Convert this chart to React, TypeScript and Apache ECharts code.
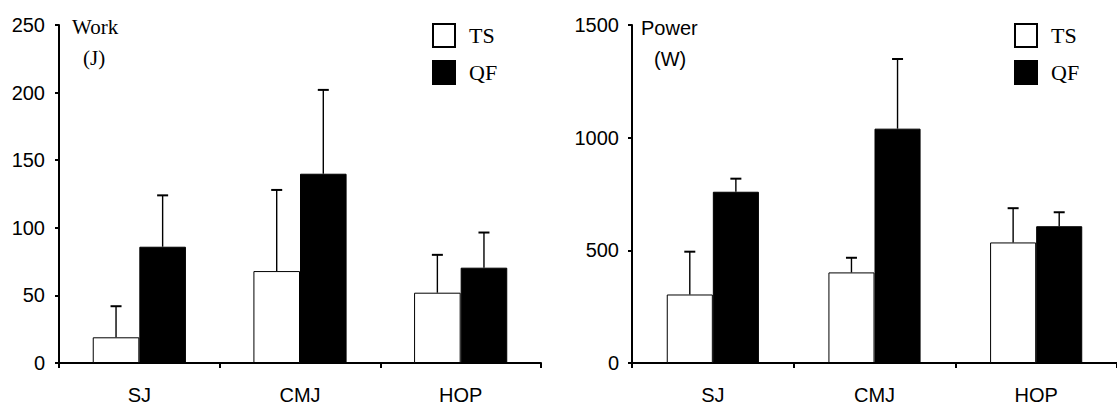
import React, { useEffect, useRef } from "react";
import * as echarts from "echarts";

const categories = ["SJ", "CMJ", "HOP"];
const seriesNames = ["TS", "QF"];

// Work (J)
const workTS = [19, 68, 52];
const workTSErr = [23, 60, 28];
const workQF = [86, 140, 70.5];
const workQFErr = [38, 62, 26];

// Power (W)
const powerTS = [304, 402, 535];
const powerTSErr = [190, 65, 152];
const powerQF = [760, 1040, 607];
const powerQFErr = [58, 309, 62];

const workTicks = { min: 0, max: 250, interval: 50 };
const powerTicks = { min: 0, max: 1500, interval: 500 };

const SANS = "'Liberation Sans', Arial, Helvetica, sans-serif";
const SERIF = "'Liberation Serif', 'Times New Roman', Times, serif";

const BAR_L = 0.29;
const BAR_R = 0.285;

function errSeries(name: string, vals: number[], errs: number[], axis: number, sign: number, barFrac: number) {
  return {
    type: "custom",
    name: name + " err",
    xAxisIndex: axis,
    yAxisIndex: axis,
    z: 5,
    silent: true,
    data: vals.map((v, i) => [i, v, errs[i]]),
    renderItem: (params: any, api: any) => {
      const i = api.value(0);
      const v = api.value(1);
      const e = api.value(2);
      const base = api.coord([i, v]);
      const top = api.coord([i, v + e]);
      const band = api.size([1, 0])[0];
      const x = base[0] + (sign * band * barFrac) / 2;
      return {
        type: "group",
        children: [
          {
            type: "line",
            shape: { x1: x, y1: base[1], x2: x, y2: top[1] },
            style: { stroke: "#000", lineWidth: 1.4 },
          },
          {
            type: "line",
            shape: { x1: x - 5.5, y1: top[1], x2: x + 5.5, y2: top[1] },
            style: { stroke: "#000", lineWidth: 2 },
          },
        ],
      };
    },
  };
}

function barSeries(name: string, vals: number[], axis: number, barFrac: number) {
  const isTS = name === "TS";
  return {
    type: "bar",
    name,
    xAxisIndex: axis,
    yAxisIndex: axis,
    barWidth: barFrac * 100 + "%",
    barGap: "0%",
    data: vals,
    itemStyle: {
      color: isTS ? "#ffffff" : "#000000",
      borderColor: "#000",
      borderWidth: 1,
    },
  };
}

const axisLine = { show: true, lineStyle: { color: "#000", width: 2 } };

export default function App() {
  const ref = useRef<HTMLDivElement>(null);
  useEffect(() => {
    if (!ref.current) return;
    const chart = echarts.init(ref.current, null, { renderer: "svg" });
    const xAxisBase = {
      type: "category",
      data: categories,
      boundaryGap: true,
      axisLine,
      axisTick: { show: true, length: 5, lineStyle: { color: "#000", width: 2 } },
      axisLabel: { color: "#000", fontSize: 20, fontFamily: SANS, margin: 22 },
      splitLine: { show: false },
    };
    const yAxisBase = {
      type: "value",
      axisLine,
      axisTick: { show: true, length: 4, lineStyle: { color: "#000", width: 2 } },
      splitLine: { show: false },
    };
    const legendBase = {
      orient: "vertical",
      data: seriesNames,
      icon: "rect",
      itemWidth: 22,
      itemHeight: 23,
      itemGap: 12,
      padding: 0,
      selectedMode: false,
      textStyle: { color: "#000", fontSize: 22, fontFamily: SERIF, padding: [0, 0, 0, 9] },
    };
    chart.setOption({
      animation: false,
      backgroundColor: "#fff",
      legend: [
        { ...legendBase, left: 432, top: 23 },
        { ...legendBase, left: 1014, top: 23 },
      ],
      grid: [
        { left: 59, top: 25, width: 482, height: 338 },
        { left: 632, top: 25, width: 491, height: 338 },
      ],
      xAxis: [
        { ...xAxisBase, gridIndex: 0 },
        { ...xAxisBase, gridIndex: 1 },
      ],
      yAxis: [
        {
          ...yAxisBase,
          gridIndex: 0,
          ...workTicks,
          axisLabel: { color: "#000", fontSize: 20, fontFamily: SANS, margin: 14, formatter: (v: number) => String(v) },
        },
        {
          ...yAxisBase,
          gridIndex: 1,
          ...powerTicks,
          axisLabel: { color: "#000", fontSize: 20, fontFamily: SANS, margin: 13, formatter: (v: number) => String(v) },
        },
      ],
      graphic: [
        { type: "text", left: 72, top: 16, style: { text: "Work", fontSize: 21, fontFamily: SERIF, fill: "#000" } },
        { type: "text", left: 83, top: 47, style: { text: "(J)", fontSize: 21, fontFamily: SERIF, fill: "#000" } },
        { type: "text", left: 641, top: 18, style: { text: "Power", fontSize: 20, fontFamily: SANS, fill: "#000" } },
        { type: "text", left: 654, top: 49, style: { text: "(W)", fontSize: 20, fontFamily: SANS, fill: "#000" } },
      ],
      series: [
        barSeries("TS", workTS, 0, BAR_L),
        barSeries("QF", workQF, 0, BAR_L),
        barSeries("TS", powerTS, 1, BAR_R),
        barSeries("QF", powerQF, 1, BAR_R),
        errSeries("TS", workTS, workTSErr, 0, -1, BAR_L),
        errSeries("QF", workQF, workQFErr, 0, 1, BAR_L),
        errSeries("TS", powerTS, powerTSErr, 1, -1, BAR_R),
        errSeries("QF", powerQF, powerQFErr, 1, 1, BAR_R),
      ],
    });
    return () => chart.dispose();
  }, []);
  return (
    <div
      ref={ref}
      style={{ position: "absolute", left: 0, top: 0, width: 1117, height: 406, overflow: "hidden" }}
    />
  );
}
